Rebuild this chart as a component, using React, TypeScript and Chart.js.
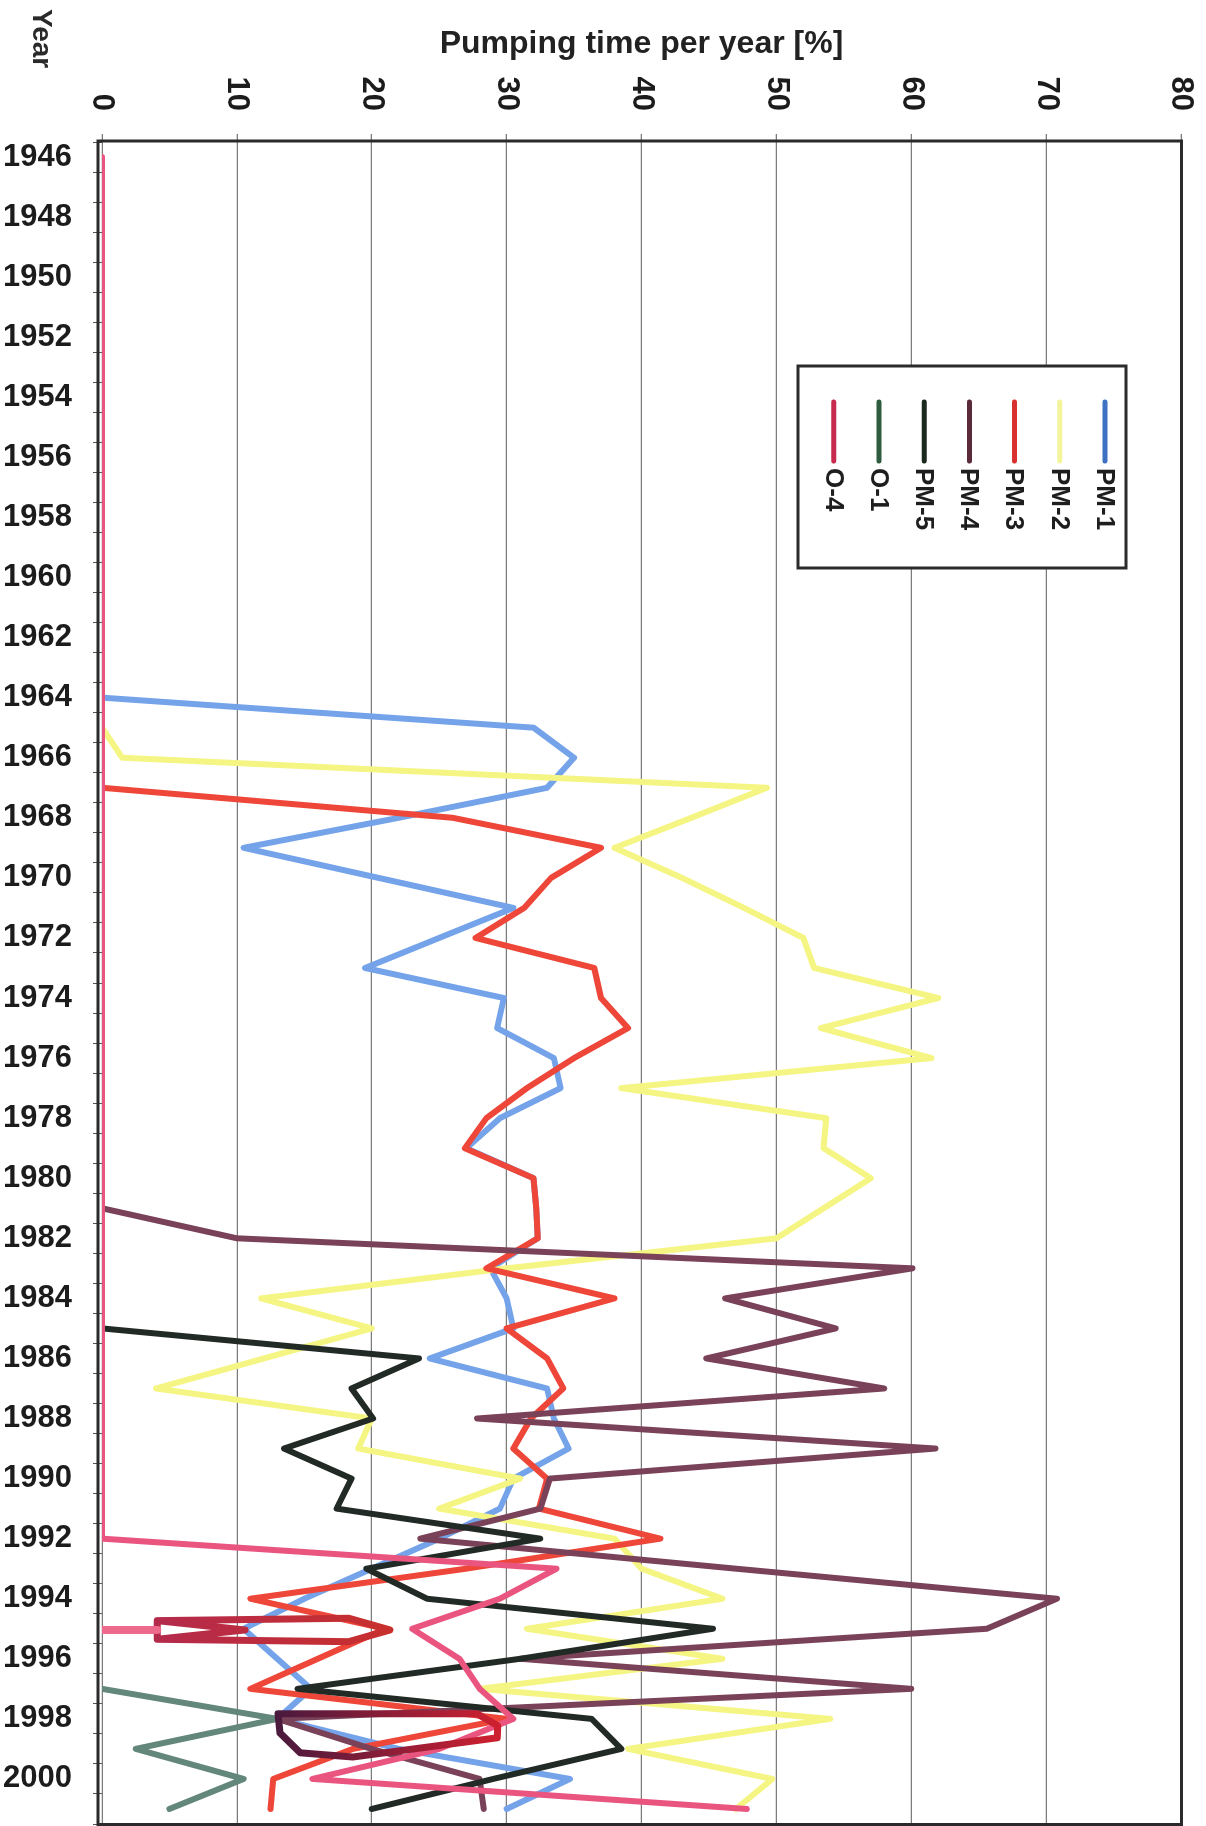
import React, { useEffect, useRef } from 'react';
import { Chart, registerables } from 'chart.js';

Chart.register(...registerables);

const FONT = "'Liberation Sans', Arial, Helvetica, sans-serif";

// Category axis (years) and value axis ticks
const YEARS = [
  1946, 1947, 1948, 1949, 1950, 1951, 1952, 1953, 1954, 1955, 1956, 1957, 1958, 1959,
  1960, 1961, 1962, 1963, 1964, 1965, 1966, 1967, 1968, 1969, 1970, 1971, 1972, 1973,
  1974, 1975, 1976, 1977, 1978, 1979, 1980, 1981, 1982, 1983, 1984, 1985, 1986, 1987,
  1988, 1989, 1990, 1991, 1992, 1993, 1994, 1995, 1996, 1997, 1998, 1999, 2000, 2001,
];
const VALUE_MIN = 0;
const VALUE_MAX = 80;
const VALUE_STEP = 10;

// Series: first year of record + yearly values (% of year pumping)
const PM1_FROM = 1964;
const PM1 = [0, 32, 35, 33, 22, 10.5, 20.5, 30.5, 25, 19.5, 29.8, 29.3, 33.5, 34, 29.5, 27, 32, 32.2, 32.3, 28.8,
  30, 30.5, 24.3, 33, 33.5, 34.6, 30.5, 29.5, 25, 20, 15, 10.5, 13, 15.5, 13, 22, 34.7, 30];

const PM2_FROM = 1965;
const PM2 = [0, 1.5, 49.3, 43.7, 38, 43, 47.6, 52, 52.8, 62, 53.3, 61.5, 38.5, 53.7, 53.5, 57, 53.5, 50, 30,
  11.8, 20, 12, 4, 20, 19, 31, 25, 38, 40, 46, 31.5, 46, 28, 54, 39, 49.7, 47];

const PM3_FROM = 1967;
const PM3 = [0, 26, 37, 33.3, 31.3, 27.7, 36.5, 37, 39, 35, 31.5, 28.5, 26.9, 32, 32.2, 32.3, 28.5, 38, 30,
  33, 34.2, 31.8, 30.5, 33, 32.4, 41.4, 27, 11, 21, 16, 11, 30, 18.6, 12.7, 12.5];

const PM4_FROM = 1981;
const PM4 = [0, 10, 60.1, 46.2, 54.4, 44.8, 58, 27.8, 61.8, 33.2, 32.5, 23.6, 47, 70.8, 65.6, 31, 60, 13, 20,
  28, 28.3];

const PM5_FROM = 1985;
const PM5 = [0, 23.5, 18.5, 20.1, 13.5, 18.5, 17.4, 32.5, 19.6, 24.1, 45.3, 31, 14.5, 36.3, 38.5, 29, 20];

const O1_FROM = 1997;
const O1 = [0, 13, 2.5, 10.5, 5];

const O4_FROM = 1946;
const O4 = [
  0, 0, 0, 0, 0, 0, 0, 0, 0, 0, 0, 0, 0, 0, 0, 0, 0, 0, 0, 0, 0, 0, 0, 0,
  0, 0, 0, 0, 0, 0, 0, 0, 0, 0, 0, 0, 0, 0, 0, 0, 0, 0, 0, 0, 0, 0, 0,
  33.7, 29.5, 23, 26.5, 28, 30.5, 25, 15.6, 47.8,
];

// Thick hand-drawn looking outlines visible in the scan (year, value)
const STUB_YEARS = [1995.04, 1995.04];
const STUB_VALUES = [0, 4.1];
const MARK_A_YEARS = [1994.73, 1994.65, 1995.04, 1995.43, 1995.35, 1994.73, 1995.04, 1995.35];
const MARK_A_VALUES = [4.1, 18.3, 21.35, 18.3, 4.1, 4.1, 10.6, 4.1];
const MARK_B_YEARS = [1997.83, 1997.83, 1998.23, 1998.63, 1999.27, 1999.13, 1998.47, 1997.83];
const MARK_B_VALUES = [13.05, 27.8, 29.35, 29.3, 18.6, 14.7, 13.2, 13.05];

const SERIES = [
  { label: 'PM-1', from: PM1_FROM, values: PM1, color: '#74a3ea', key: '#3f71c2' },
  { label: 'PM-2', from: PM2_FROM, values: PM2, color: '#f5f584', key: '#f4f49a' },
  { label: 'PM-3', from: PM3_FROM, values: PM3, color: '#ee4638', key: '#d93030' },
  { label: 'PM-4', from: PM4_FROM, values: PM4, color: '#7a4258', key: '#5a2a3a' },
  { label: 'PM-5', from: PM5_FROM, values: PM5, color: '#222a26', key: '#1b2a1e' },
  { label: 'O-1', from: O1_FROM, values: O1, color: '#63877a', key: '#2f5c3e' },
  { label: 'O-4', from: O4_FROM, values: O4, color: '#ea5580', key: '#c62a4c' },
];

function gradientFor(chart: any, v0: number, v1: number, c0: string, c1: string, fallback: string) {
  const area = chart.chartArea;
  const ys = chart.scales && chart.scales.y;
  if (!area || !ys) return fallback;
  const g = chart.ctx.createLinearGradient(0, ys.getPixelForValue(v0), 0, ys.getPixelForValue(v1));
  g.addColorStop(0, c0);
  g.addColorStop(1, c1);
  return g;
}

const framePlugin = {
  id: 'frame',
  beforeDatasetsDraw(chart: any) {
    const { ctx, chartArea: a } = chart;
    ctx.save();
    ctx.strokeStyle = '#2a2a2a';
    ctx.lineWidth = 3;
    ctx.strokeRect(a.left - 1, a.top - 0.5, a.right - a.left + 1.5, a.bottom - a.top + 4.5);
    ctx.restore();
  },
};

const legendPlugin = {
  id: 'boxLegend',
  afterDraw(chart: any) {
    const { ctx } = chart;
    const x0 = 366;
    const y0 = 80;
    const w = 202;
    const h = 328;
    ctx.save();
    ctx.fillStyle = '#ffffff';
    ctx.fillRect(x0, y0, w, h);
    ctx.strokeStyle = '#2b2b2b';
    ctx.lineWidth = 3;
    ctx.strokeRect(x0, y0, w, h);
    ctx.font = `bold 26px ${FONT}`;
    ctx.textBaseline = 'middle';
    ctx.textAlign = 'left';
    SERIES.forEach((s, i) => {
      const y = 101 + i * 45.2;
      ctx.strokeStyle = s.key;
      ctx.lineWidth = 5;
      ctx.lineCap = 'round';
      ctx.beginPath();
      ctx.moveTo(402, y);
      ctx.lineTo(461, y);
      ctx.stroke();
      ctx.fillStyle = '#1e1e1e';
      ctx.fillText(s.label, 468, y + 1);
    });
    ctx.restore();
  },
};

const captionPlugin = {
  id: 'yearCaption',
  afterDraw(chart: any) {
    const { ctx } = chart;
    ctx.save();
    ctx.fillStyle = '#2a2a2a';
    ctx.font = `bold 28px ${FONT}`;
    ctx.textBaseline = 'alphabetic';
    ctx.textAlign = 'left';
    ctx.fillText('Year', 9, 1173);
    ctx.restore();
  },
};

function zeroPadding(s: any) {
  s.paddingLeft = 0;
  s.paddingRight = 0;
  s.paddingTop = 0;
  s.paddingBottom = 0;
}

function outline(label: string, years: any[], values: any[], width: number, color: any) {
  return {
    label,
    data: years.map((yr, k) => ({ x: yr, y: values[k] })),
    borderColor: color,
    borderWidth: width,
    pointRadius: 0,
    tension: 0,
    fill: false,
    order: -1,
  };
}

export default function App() {
  const ref = useRef<HTMLCanvasElement | null>(null);

  useEffect(() => {
    if (!ref.current) return;
    const datasets: any[] = SERIES.map((s, i) => ({
      label: s.label,
      data: s.values.map((v, k) => ({ x: s.from + k, y: v })),
      borderColor: s.color,
      backgroundColor: s.color,
      borderWidth: 6,
      pointRadius: 0,
      tension: 0,
      fill: false,
      order: SERIES.length - i,
    }));
    datasets.push(outline('stub', STUB_YEARS, STUB_VALUES, 8, '#ee6a8c'));
    datasets.push(
      outline('mark-a', MARK_A_YEARS, MARK_A_VALUES, 7, (c: any) =>
        gradientFor(c.chart, 4, 21, '#b42a4c', '#c8302e', '#b82a46'),
      ),
    );
    datasets.push(
      outline('mark-b', MARK_B_YEARS, MARK_B_VALUES, 7, (c: any) =>
        gradientFor(c.chart, 13, 29, '#4a1a3e', '#cc2030', '#8a2040'),
      ),
    );

    const chart = new Chart(ref.current, {
      type: 'line',
      data: { datasets },
      options: {
        responsive: false,
        animation: false,
        events: [],
        layout: { autoPadding: false, padding: { top: 25, right: 2, bottom: 0, left: 0 } },
        plugins: {
          legend: { display: false },
          tooltip: { enabled: false },
          title: { display: false },
        },
        elements: {
          point: { radius: 0 },
          line: { borderCapStyle: 'round', borderJoinStyle: 'round' },
        },
        scales: {
          x: {
            type: 'linear',
            position: 'bottom',
            min: YEARS[0] - 0.5,
            max: YEARS[YEARS.length - 1] + 0.5,
            afterBuildTicks: (s: any) => {
              s.ticks = YEARS.map((v) => ({ value: v }));
            },
            afterFit: (s: any) => {
              s.height = 102;
              zeroPadding(s);
            },
            grid: {
              offset: true,
              drawOnChartArea: false,
              drawTicks: true,
              tickLength: 9,
              color: '#555555',
              lineWidth: 1,
            },
            border: { display: false },
            ticks: {
              autoSkip: false,
              minRotation: 90,
              maxRotation: 90,
              padding: 21,
              color: '#1c1c1c',
              font: { family: FONT, size: 31, weight: 'bold' },
              callback: (v: any) => (Number(v) % 2 === 0 ? String(v) : ''),
            },
          },
          y: {
            type: 'linear',
            position: 'left',
            min: VALUE_MIN,
            max: VALUE_MAX,
            afterFit: (s: any) => {
              s.width = 142;
              zeroPadding(s);
            },
            grid: {
              color: '#7c7c7c',
              lineWidth: 1.3,
              tickLength: 8,
            },
            border: { display: false },
            ticks: {
              stepSize: VALUE_STEP,
              padding: 23,
              color: '#1c1c1c',
              font: { family: FONT, size: 31, weight: 'bold' },
            },
            title: {
              display: true,
              text: 'Pumping time per year [%]',
              color: '#222222',
              font: { family: FONT, size: 32, weight: 'bold' },
              padding: { top: 25, bottom: 0 },
            },
          },
        },
      } as any,
      plugins: [framePlugin, legendPlugin, captionPlugin],
    });
    return () => chart.destroy();
  }, []);

  return (
    <div
      style={{
        position: 'absolute',
        left: 0,
        top: 0,
        width: 1206,
        height: 1826,
        overflow: 'hidden',
        background: '#ffffff',
      }}
    >
      <div
        style={{
          position: 'absolute',
          left: 0,
          top: 0,
          width: 1826,
          height: 1206,
          transformOrigin: '0 0',
          transform: 'translateX(1206px) rotate(90deg)',
        }}
      >
        <canvas ref={ref} width={1826} height={1206} style={{ display: 'block', width: 1826, height: 1206 }} />
      </div>
    </div>
  );
}
